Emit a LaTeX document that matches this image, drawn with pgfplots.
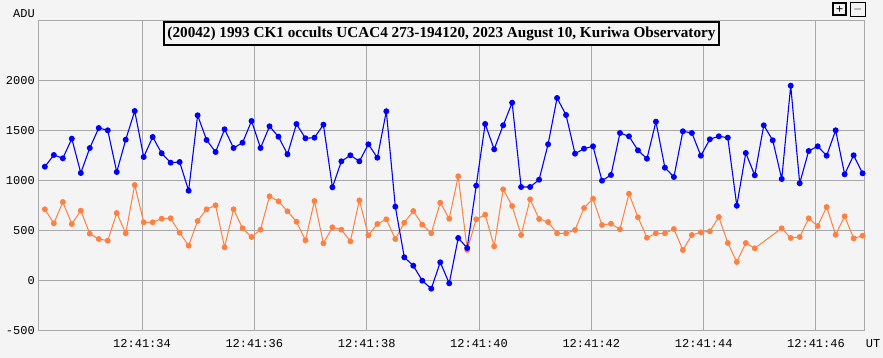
\documentclass[border=0pt]{standalone}
\usepackage{pgfplots}
\pgfplotsset{compat=1.18}
\usepackage{pgfplotstable}
\usepackage{fontspec}
\setmainfont{Liberation Serif}
\newfontfamily\monofont{Liberation Mono}
\definecolor{bg}{RGB}{244,244,244}
\definecolor{gridc}{RGB}{168,168,168}
\definecolor{ser1}{RGB}{0,0,255}
\definecolor{ser2}{RGB}{255,128,64}

\pgfplotstableread{
t b o
32.27 1143 717
32.43 1260 577
32.59 1227 790
32.75 1423 570
32.91 1080 703
33.07 1330 473
33.23 1530 420
33.39 1507 403
33.55 1090 680
33.71 1413 477
33.87 1700 960
34.03 1240 587
34.19 1440 587
34.35 1277 623
34.51 1183 627
34.67 1190 483
34.83 903 353
34.99 1657 600
35.15 1410 717
35.31 1290 757
35.47 1517 337
35.63 1330 717
35.79 1383 527
35.95 1600 440
36.11 1330 513
36.27 1547 847
36.43 1443 797
36.59 1267 697
36.75 1570 593
36.91 1427 407
37.07 1433 800
37.23 1563 377
37.39 937 537
37.55 1197 513
37.71 1257 397
37.87 1197 807
38.03 1367 457
38.19 1233 570
38.35 1697 617
38.51 743 420
38.67 237 583
38.83 153 700
38.99 3 563
39.15 -77 477
39.31 187 783
39.47 -23 623
39.63 430 1047
39.79 330 310
39.95 953 617
40.11 1570 663
40.27 1317 347
40.43 1557 917
40.59 1783 750
40.75 940 460
40.91 940 817
41.07 1013 620
41.23 1367 590
41.39 1830 477
41.55 1660 477
41.71 1273 510
41.87 1323 730
42.03 1347 823
42.19 1003 560
42.35 1060 573
42.51 1480 517
42.67 1447 873
42.83 1307 637
42.99 1223 433
43.15 1593 477
43.31 1133 477
43.47 1040 520
43.63 1497 310
43.79 1480 460
43.95 1253 487
44.11 1417 497
44.27 1447 640
44.43 1433 380
44.59 753 190
44.75 1280 380
44.91 1057 327
45.07 1557 nan
45.23 1407 nan
45.39 1020 527
45.55 1953 430
45.71 977 440
45.87 1300 627
46.03 1347 550
46.19 1253 740
46.35 1507 463
46.51 1067 647
46.67 1257 427
46.83 1077 453
}\datatable

\begin{document}
\begin{tikzpicture}[x=1pt,y=1pt]
\fill[bg] (0,0) rectangle (883,358);
\useasboundingbox (0,0) rectangle (883,358);
\begin{axis}[
  at={(38pt,27pt)}, anchor=south west,
  scale only axis, width=826pt, height=310pt,
  xmin=32.148, xmax=46.855, ymin=-500, ymax=2600,
  xtick={34,36,38,40,42,44,46},
  xticklabels={12:41:34,12:41:36,12:41:38,12:41:40,12:41:42,12:41:44,12:41:46},
  ytick={-500,0,500,1000,1500,2000},
  yticklabels={-500,0,500,1000,1500,2000},
  grid=major,
  major grid style={gridc, line width=1pt},
  axis line style={gridc, line width=1pt},
  tick style={draw=none},
  tick label style={font=\monofont\fontsize{12}{12}\selectfont, text=black},
  xticklabel style={anchor=center, yshift=-12.7pt},
  yticklabel style={anchor=east, inner sep=0pt, xshift=-3pt},
  unbounded coords=discard,
]
\addplot[ser2, line width=1pt, mark=*, mark size=2.4pt, mark options={fill=ser2, draw=ser2, solid}] table[x=t, y=o] {\datatable};
\addplot[ser1, line width=1.1pt, mark=*, mark size=2.4pt, mark options={fill=ser1, draw=ser1, solid}] table[x=t, y=b] {\datatable};
\end{axis}
\node[draw=black, line width=1.3pt, fill=bg, minimum width=555pt, minimum height=23pt, inner sep=0pt,
      font=\bfseries\fontsize{15.2}{15.2}\selectfont] at (441.5,324.5)
  {(20042) 1993 CK1 occults UCAC4 273-194120, 2023 August 10, Kuriwa Observatory};
\node[font=\monofont\fontsize{12}{12}\selectfont, inner sep=0pt] at (24,344) {ADU};
\node[font=\monofont\fontsize{12}{12}\selectfont, inner sep=0pt] at (873,14.3) {UT};
\node[draw=black, line width=2pt, minimum width=13pt, minimum height=12pt, inner sep=0pt,
      font=\bfseries\fontsize{13}{13}\selectfont] at (839.5,348.5) {+};
\node[draw=black, line width=0.8pt, minimum width=15pt, minimum height=14pt, inner sep=0pt,
      font=\fontsize{13}{13}\selectfont] at (857.8,348.5) {$-$};
\end{tikzpicture}
\end{document}
